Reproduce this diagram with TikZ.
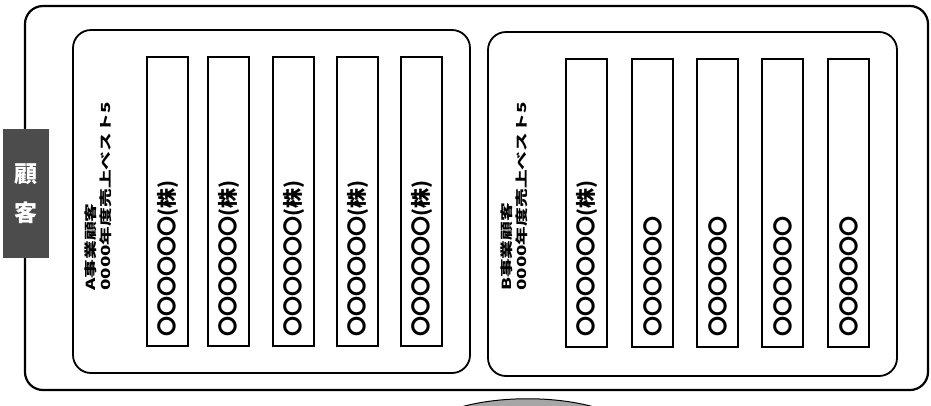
\documentclass[tikz,border=0pt]{standalone}
\usepackage{fontspec}
\usepackage{graphicx}
\newfontfamily\jp{Noto Sans CJK JP}
\tikzset{
  outerbox/.style={draw=black, line width=2.2pt, rounded corners=18pt},
  panelbox/.style={draw=black, line width=1.8pt, rounded corners=18pt},
  barbox/.style={draw=black, line width=1.6pt},
  bartext/.style={rotate=90, anchor=west, inner sep=0pt, font=\jp\bfseries\fontsize{20}{20}\selectfont},
  titletext/.style={rotate=90, anchor=west, inner sep=0pt, font=\jp\bfseries\fontsize{12.5}{15}\selectfont},
  tabbox/.style={fill=black!70, draw=none, minimum width=46pt, minimum height=129pt, inner sep=0pt},
  tablabel/.style={text=white, align=center, inner sep=0pt, font=\jp\bfseries\fontsize{23}{39}\selectfont},
  humpshape/.style={fill=black!35, draw=black, line width=1pt}
}
\begin{document}
\begin{tikzpicture}[x=1pt,y=-1pt]
\useasboundingbox (0,0) rectangle (931,405);
\fill[white] (0,0) rectangle (931,405);
% outer frame
\draw[outerbox] (25,6) rectangle (928,390);
% tab
\node[tabbox] (tab) at (26,193.5) {};
\node[tablabel] (tabl) at (tab.center) {顧\\客};
% panels
\draw[panelbox] (73,30) rectangle (470,373);
\draw[panelbox] (488,32) rectangle (897,376);
% panel titles
\node[titletext] (titleA) at (100,291) {\scalebox{1.5}[1]{\begin{tabular}{@{}l@{}}A事業顧客\\0000年度売上ベスト5\end{tabular}}};
\node[titletext] (titleB) at (516,291) {\scalebox{1.5}[1]{\begin{tabular}{@{}l@{}}B事業顧客\\0000年度売上ベスト5\end{tabular}}};
% bars A
\foreach \i/\xl in {1/147,2/208,3/273,4/337,5/401}{
  \draw[barbox] (\xl,57) rectangle ++(41,289);
  \node[bartext] (ta\i) at (\xl+20.5,337) {〇〇〇〇〇〇(株)};
}
% bars B
\draw[barbox] (566,59) rectangle ++(41,288);
\node[bartext] (tb1) at (586.5,337) {〇〇〇〇〇〇(株)};
\foreach \i/\xl in {2/632,3/697,4/762,5/828}{
  \draw[barbox] (\xl,59) rectangle ++(41,288);
  \node[bartext] (tb\i) at (\xl+20.5,337) {〇〇〇〇〇〇};
}
% bottom hump
\draw[humpshape] (461,407) .. controls (500,396) and (555,396) .. (594,407);
\end{tikzpicture}
\end{document}
